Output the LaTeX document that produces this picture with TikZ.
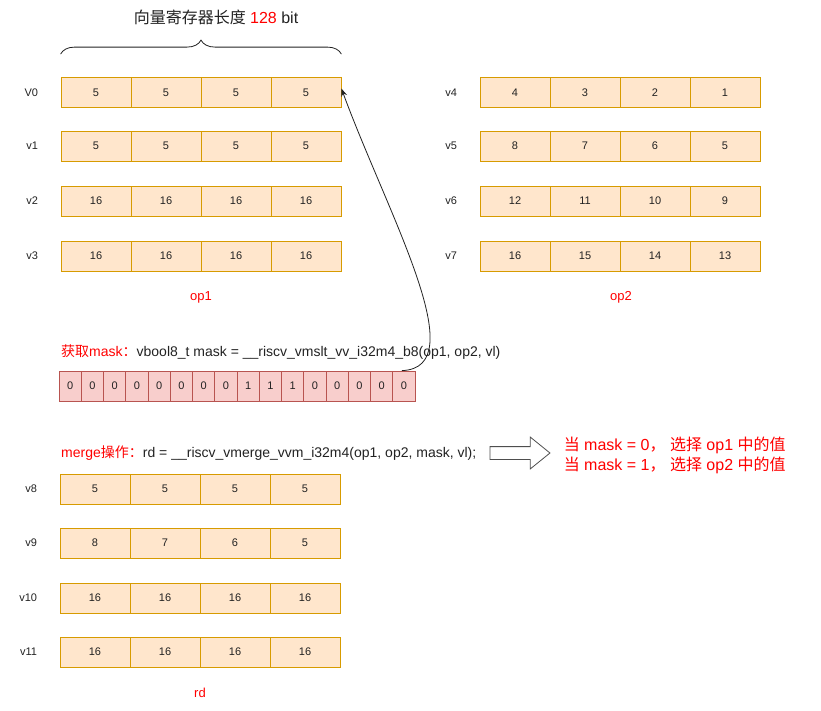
\documentclass[tikz,border=0pt]{standalone}
\usepackage{fontspec}
\setmainfont{Liberation Sans}
\newfontfamily\cjk{Noto Sans CJK SC}
\usepackage{xcolor}
\usetikzlibrary{arrows.meta, positioning, shapes.arrows, decorations.pathreplacing}
\definecolor{regfill}{HTML}{FFE6CC}
\definecolor{regline}{HTML}{D79B00}
\definecolor{maskfill}{HTML}{F8CECC}
\definecolor{maskline}{HTML}{B85450}
\definecolor{notered}{HTML}{FF0000}
\definecolor{maingray}{HTML}{222222}
\tikzset{
    regcell/.style={
        rectangle,
        draw=regline,
        fill=regfill,
        line width=0.8pt,
        minimum width=70pt,
        minimum height=30pt,
        inner sep=0pt,
        text=maingray,
        font=\fontsize{11}{13}\selectfont
    },
    maskcell/.style={
        rectangle,
        draw=maskline,
        fill=maskfill,
        line width=0.8pt,
        minimum width=22.25pt,
        minimum height=30pt,
        inner sep=0pt,
        text=maingray,
        font=\fontsize{11}{13}\selectfont
    },
    reglabel/.style={
        text=maingray,
        font=\fontsize{11}{13}\selectfont
    },
    grouplabel/.style={
        text=notered,
        font=\fontsize{13}{15}\selectfont
    },
    codelabel/.style={
        anchor=west,
        inner sep=0pt,
        text=maingray,
        font=\fontsize{14}{16}\selectfont
    },
    arrow/.style={
        -{Stealth[length=8pt, width=6pt]},
        line width=0.8pt,
        draw=maingray
    }
}

\begin{document}
\begin{tikzpicture}[x=1pt, y=-1pt]
    \useasboundingbox (0,0) rectangle (821,710);

    % register rows: name / label / left edge / centre y / values
    \foreach \n/\lab/\x/\y/\vals in {
        v0/V0/61/92.5/{5,5,5,5}, v1/v1/61/146/{5,5,5,5},
        v2/v2/61/201/{16,16,16,16}, v3/v3/61/256/{16,16,16,16},
        v4/v4/480/92.5/{4,3,2,1}, v5/v5/480/146/{8,7,6,5},
        v6/v6/480/201/{12,11,10,9}, v7/v7/480/256/{16,15,14,13},
        v8/v8/60/489/{5,5,5,5}, v9/v9/60/543/{8,7,6,5},
        v10/v10/60/598/{16,16,16,16}, v11/v11/60/652/{16,16,16,16}} {
        \foreach \v [count=\i] in \vals {
            \node[regcell] (\n c\i) at ({\x+70*(\i-0.5)},\y) {\v};
        }
        \node[reglabel, left=19pt of \n c1] (\n lab) {\lab};
    }

    \node[grouplabel] (op1) at (201,297) {op1};
    \node[grouplabel] (op2) at (621,297) {op2};
    \node[grouplabel] (rd) at (200,693) {rd};

    % register length brace
    \draw[line width=0.8pt, maingray, decorate, decoration={brace, amplitude=14pt}]
        ([yshift=23pt]v0c1.north west) -- ([yshift=23pt]v0c4.north east);
    \node[text=maingray, font=\fontsize{16}{18}\selectfont] (title) at (216,17)
        {{\cjk 向量寄存器长度} \textcolor{notered}{128} bit};

    % mask
    \node[codelabel] (masklab) at (61,352)
        {\textcolor{notered}{{\cjk 获取}mask{\cjk ：}}vbool8\_t mask = \_\_riscv\_vmslt\_vv\_i32m4\_b8(op1, op2, vl)};
    \foreach \b [count=\i] in {0,0,0,0,0,0,0,0,1,1,1,0,0,0,0,0} {
        \node[maskcell] (m\i) at ({59+22.25*(\i-0.5)},386) {\b};
    }
    \draw[arrow] ([xshift=-2pt]m16.north) .. controls (475,368) and (388,215) .. ([yshift=4pt]v0c4.east);

    % merge
    \node[codelabel] (mergelab) at (61,453)
        {\textcolor{notered}{merge{\cjk 操作：}}rd = \_\_riscv\_vmerge\_vvm\_i32m4(op1, op2, mask, vl);};
    \node[single arrow, draw=maingray!80, fill=white, line width=0.8pt, inner sep=6pt,
        minimum height=60pt, single arrow head extend=9.5pt, single arrow tip angle=78]
        (mergearrow) at (516,453) {};
    \node[anchor=west, align=left, inner sep=0pt, text=notered,
        font=\fontsize{16}{20}\selectfont, right=13pt of mergearrow.east, yshift=-2pt] (rule)
        {{\cjk 当} mask = 0{\cjk ，} {\cjk 选择} op1 {\cjk 中的值}\\
         {\cjk 当} mask = 1{\cjk ，} {\cjk 选择} op2 {\cjk 中的值}};
\end{tikzpicture}
\end{document}
